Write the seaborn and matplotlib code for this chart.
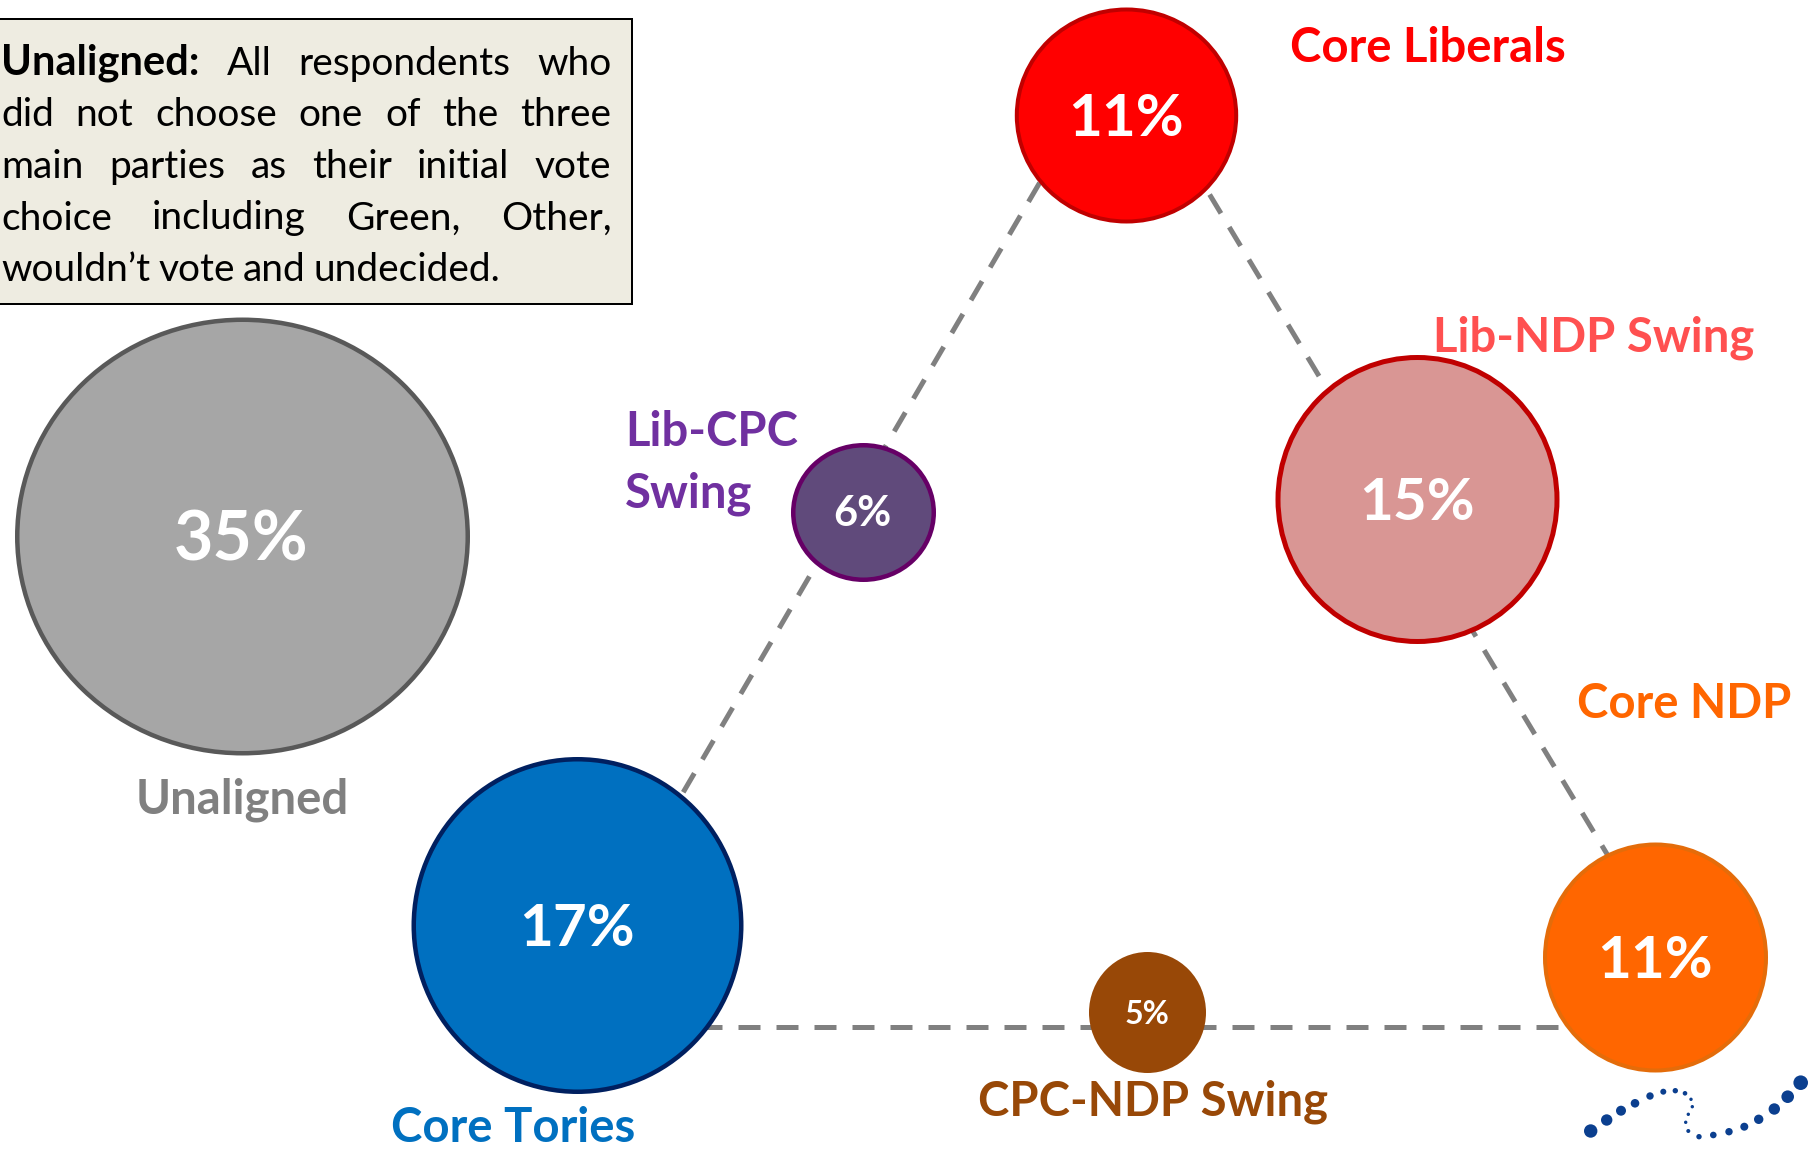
import numpy as np
import pandas as pd
import seaborn as sns
import matplotlib.pyplot as plt
from matplotlib.path import Path
from matplotlib.markers import MarkerStyle
from matplotlib.transforms import Affine2D

# segments of the electorate and their share (%)
segments = ['Unaligned', 'Core Liberals', 'Lib-CPC Swing', 'Lib-NDP Swing',
            'Core Tories', 'CPC-NDP Swing', 'Core NDP']
shares = [35, 11, 6, 15, 17, 5, 11]
seg_labels = ['Unaligned', 'Core Liberals', 'Lib-CPC\nSwing', 'Lib-NDP Swing',
              'Core Tories', 'CPC-NDP Swing', 'Core NDP']

# layout (pixel space of the 1816 x 1149 canvas)
cx = [241.5, 1125.5, 862.5, 1417, 577, 1146.5, 1654.5]
cy = [536, 115, 511.5, 498.5, 924.5, 1012, 957]
rx = [227.5, 111.7, 72.5, 142, 166, 58.5, 112.5]
ry = [219, 108, 69.5, 144.5, 168.5, 60.5, 115]
edge_px = [4.5, 4, 4.5, 5, 4.5, 0, 4]
pct_size = [49, 42, 30, 42, 42, 23, 42]

fill_col = ['#A6A6A6', '#FF0000', '#604A7B', '#D99694', '#0070C0', '#984807', '#FF6600']
edge_col = ['#595959', '#C00000', '#660066', '#C00000', '#002060', '#984807', '#E46C0A']
text_col = ['#808080', '#FF0000', '#7030A0', '#FF5050', '#0070C0', '#984807', '#FF6600']

# label anchors: x, baseline y (of last line), horizontal alignment
lab_x = [242, 1428, 625, 1594, 513.5, 1153, 1684]
lab_y = [813, 62, 507, 352, 1142, 1115, 718]
lab_ha = ['center', 'center', 'left', 'center', 'center', 'center', 'center']

df = pd.DataFrame({'segment': segments, 'share': shares, 'x': cx, 'y': cy})

sns.set_style('white')
plt.rcParams['font.family'] = ['Lato', 'DejaVu Sans']

W, H = 1816, 1149
fig = plt.figure(figsize=(W / 100, H / 100), dpi=100)
ax = fig.add_axes([0, 0, 1, 1])
ax.set_xlim(0, W)
ax.set_ylim(H, 0)
ax.axis('off')

px2pt = 72 / 100

# dashed connectors between the core groups
dash = dict(color='#808080', lw=5 * px2pt, ls=(0, (4.4, 3.2)),
            dash_capstyle='butt', zorder=2)
ax.plot([1058.8, 667], [150, 820], **dash)
ax.plot([1190, 1610], [162, 859], **dash)
ax.plot([700, 1600], [1027, 1027], **dash)

# bubbles
for i, row in df.iterrows():
    lw = edge_px[i]
    a = rx[i] - lw / 2
    b = ry[i] - lw / 2
    path = Path.unit_circle().transformed(Affine2D().scale(a, b))
    s = (2 * max(a, b) * px2pt) ** 2
    sns.scatterplot(x=[row['x']], y=[row['y']], s=s, marker=MarkerStyle(path),
                    color=fill_col[i], edgecolor=edge_col[i],
                    linewidth=lw * px2pt, ax=ax, zorder=3, legend=False)
    ax.text(row['x'], row['y'] + pct_size[i] / 2, f"{row['share']}%",
            ha='center', va='baseline', color='white', fontweight='bold',
            fontsize=pct_size[i], zorder=4)

for i in range(len(segments)):
    ax.text(lab_x[i], lab_y[i], seg_labels[i], ha=lab_ha[i], va='baseline',
            color=text_col[i], fontweight='bold', fontsize=34,
            linespacing=1.46, zorder=4)

# definition box
ax.add_patch(plt.Rectangle((-3, 19), 635, 285, facecolor='#EEECE1',
                           edgecolor='black', lw=2 * px2pt, zorder=1))
box_lines = [
    ['Unaligned:', 'All', 'respondents', 'who'],
    ['did', 'not', 'choose', 'one', 'of', 'the', 'three'],
    ['main', 'parties', 'as', 'their', 'initial', 'vote'],
    ['choice', 'including', 'Green,', 'Other,'],
    ['wouldn’t', 'vote', 'and', 'undecided.'],
]
renderer = fig.canvas.get_renderer()
left, right = 1, 611.5
box_fs = 28
for k, words in enumerate(box_lines):
    base = 75 + k * 51.5
    txts = []
    for w in words:
        bold = (k == 0 and w == 'Unaligned:')
        t = ax.text(0, base, w, ha='left', va='baseline',
                    fontsize=box_fs + 2 if bold else box_fs,
                    fontweight='bold' if bold else 'normal', color='black',
                    zorder=4)
        txts.append(t)
    widths = [t.get_window_extent(renderer=renderer).width for t in txts]
    if k < len(box_lines) - 1:
        gap = (right - left - sum(widths)) / (len(words) - 1)
    else:
        gap = 8
    x = left
    for t, wd in zip(txts, widths):
        t.set_x(x)
        x += wd + gap

# logo dots (decoration)
logo_x = [1590.7, 1606.7, 1621, 1635, 1650, 1663.3, 1675.3, 1685, 1691, 1692.3,
          1688.3, 1685.7, 1688.3, 1699, 1713.3, 1729, 1744.3, 1758.7, 1774.3,
          1787.7, 1800.7]
logo_y = [1131, 1120, 1110.7, 1103.3, 1096, 1091.7, 1090.7, 1093.3, 1099.3,
          1106.7, 1114.3, 1122.3, 1131, 1136.7, 1135, 1131.7, 1126.7, 1119.3,
          1109, 1096.7, 1082.7]
logo_r = [6.7, 5.7, 5, 4.3, 3.7, 3, 2.7, 2.3, 1.7, 1.7, 1.7, 1.7, 2, 2.7, 3.3,
          3.7, 4, 4.7, 5.7, 6.3, 7.3]
ax.scatter(logo_x, logo_y, s=[(2 * r * px2pt) ** 2 for r in logo_r],
           color='#0B3F8F', linewidth=0, zorder=3)

fig.savefig('out.png', dpi=100)
